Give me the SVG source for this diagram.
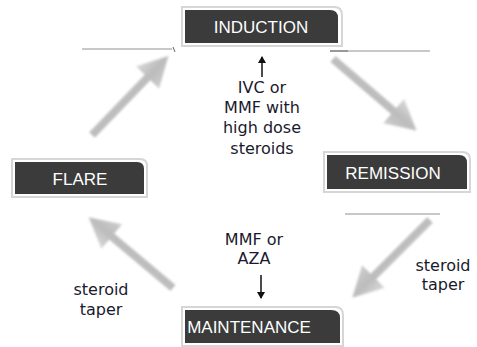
<svg xmlns="http://www.w3.org/2000/svg" width="477" height="347" viewBox="0 0 477 347">
<defs>
<style>
.box{fill:#3b3b3b}
.rim{fill:none;stroke:#d6d6d6;stroke-width:2}
.lbl{font-family:"Liberation Sans",Arial,sans-serif;font-size:17px;fill:#ffffff;text-anchor:middle}
.txt{font-family:"DejaVu Sans",Verdana,sans-serif;font-size:16px;fill:#1a1a2e;text-anchor:middle}
.big{fill:url(#ag);filter:url(#soft)}
.thin{stroke:#111;stroke-width:1.5;fill:none}
.rule{stroke:#c8c8c8;stroke-width:2;fill:none}
</style>
<linearGradient id="ag" x1="0" y1="0" x2="0" y2="1">
<stop offset="0" stop-color="#dadada"/>
<stop offset="0.5" stop-color="#bcbcbc"/>
<stop offset="1" stop-color="#cdcdcd"/>
</linearGradient>
<filter id="soft" x="-10%" y="-20%" width="120%" height="140%"><feGaussianBlur stdDeviation="0.8"/></filter>
<path id="bigarrow" d="M0,-4 L80,-4 L80,-16 L110,0 L80,16 L80,4 L0,4 Z"/>
<marker id="ah" markerWidth="8" markerHeight="8" refX="6" refY="4" orient="auto" markerUnits="userSpaceOnUse">
<path d="M0,0 L7,4 L0,8 Z" fill="#111"/>
</marker>
</defs>
<g id="connectors">
<use href="#bigarrow" class="big" transform="translate(92,135) rotate(-46)"/>
<use href="#bigarrow" class="big" transform="translate(333,59) rotate(40.6)"/>
<use href="#bigarrow" class="big" transform="translate(430,220) rotate(135)"/>
<use href="#bigarrow" class="big" transform="translate(173,288) rotate(220)"/>
<line class="thin" x1="262" y1="77" x2="262" y2="57" marker-end="url(#ah)"/>
<line class="thin" x1="261" y1="275" x2="261" y2="298" marker-end="url(#ah)"/>
<line class="rule" x1="82" y1="49" x2="172" y2="49"/>
<path d="M173,47 L175,52" stroke="#666" stroke-width="1" fill="none"/>
<line class="rule" x1="345" y1="51" x2="430" y2="51"/>
<line x1="330" y1="51" x2="348" y2="51" stroke="#999" stroke-width="2"/>
<line class="rule" x1="345" y1="214" x2="440" y2="214"/>
</g>
<g id="induction">
<path class="rim" d="M182,7 H334 Q342,7 342,15 V46 H182 Z"/>
<path class="box" d="M185,10 H330 Q338,10 338,18 V43 H185 Z"/>
<text class="lbl" x="261" y="33">INDUCTION</text>
</g>
<g id="remission">
<path class="rim" d="M324,152 H462 Q470,152 470,160 V192 H324 Z"/>
<path class="box" d="M327,155 H459 Q467,155 467,163 V189 H327 Z"/>
<text class="lbl" x="393" y="179">REMISSION</text>
</g>
<g id="flare">
<path class="rim" d="M12,159 H140 Q147,159 147,166 V197 H12 Z"/>
<path class="box" d="M15,162 H137 Q144,162 144,169 V194 H15 Z"/>
<text class="lbl" x="80" y="185">FLARE</text>
</g>
<g id="maintenance">
<path class="rim" d="M182,307 H335 Q343,307 343,315 V346 H182 Z"/>
<path class="box" d="M185,310 H331 Q340,310 340,318 V343 H185 Z"/>
<text class="lbl" x="249" y="333">MAINTENANCE</text>
</g>
<g id="labels">
<text class="txt" x="262" y="93">IVC or</text>
<text class="txt" x="262" y="113">MMF with</text>
<text class="txt" x="262" y="133">high dose</text>
<text class="txt" x="262" y="154">steroids</text>
<text class="txt" x="254" y="245">MMF or</text>
<text class="txt" x="254" y="264">AZA</text>
<text class="txt" x="101" y="295">steroid</text>
<text class="txt" x="101" y="315">taper</text>
<text class="txt" x="443" y="271">steroid</text>
<text class="txt" x="443" y="290">taper</text>
</g>
</svg>
